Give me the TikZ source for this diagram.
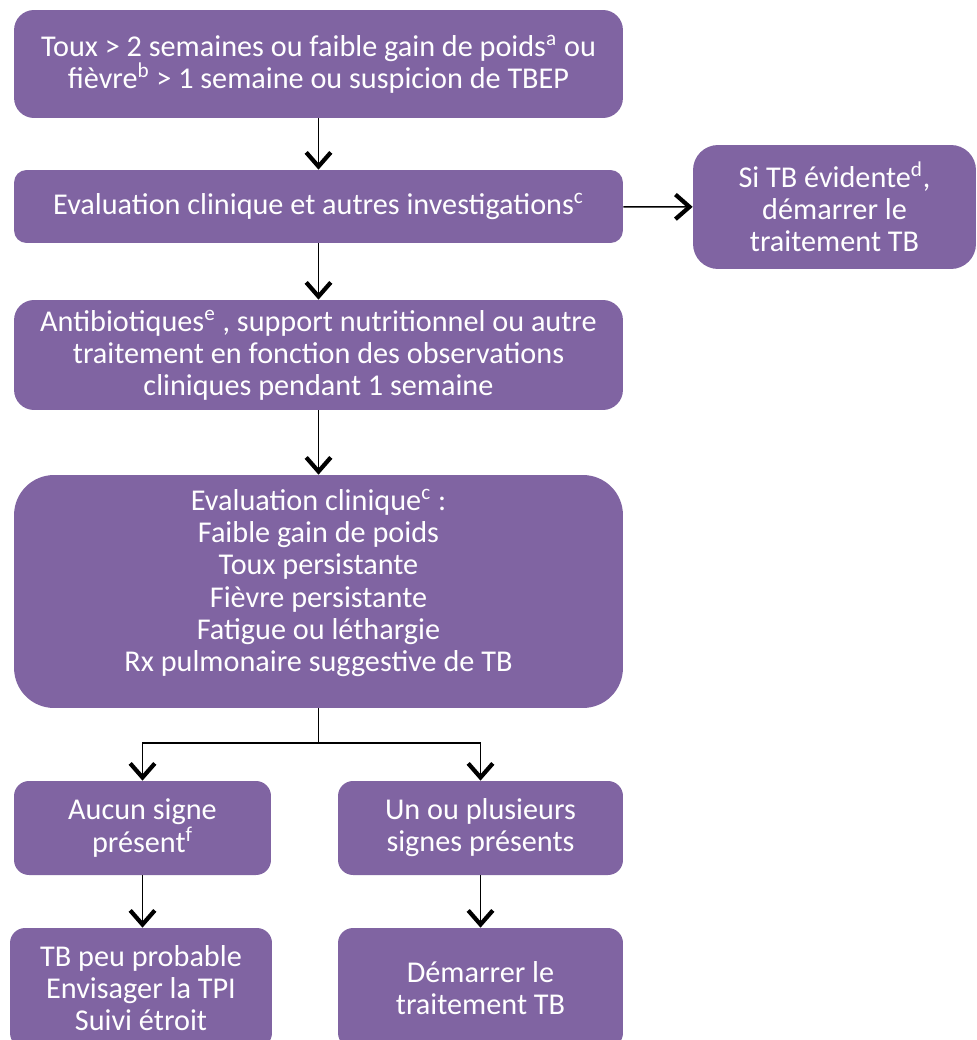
\documentclass[tikz,border=0pt]{standalone}
\usepackage{fontspec}
\setmainfont{Carlito}
\usetikzlibrary{arrows.meta}
\definecolor{boxpurple}{RGB}{128,100,162}
\begin{document}
\begin{tikzpicture}[x=0.02cm,y=-0.02cm,
  box/.style={fill=boxpurple, text=white, align=center, inner sep=0pt,
    font=\fontsize{17.2}{18.3}\selectfont},
  arr/.style={line width=0.9pt, -{Straight Barb[length=8pt,width=14pt,line width=2.4pt]}},
  link/.style={line width=0.9pt}]
\useasboundingbox (0,0) rectangle (976,1040);
\clip (0,0) rectangle (976,1040);
\node[box, minimum width=12.18cm, minimum height=2.16cm, rounded corners=0.4cm] (b1) at (318.5,64)
  {Toux > 2 semaines ou faible gain de poids\textsuperscript{a} ou\\ fièvre\textsuperscript{b} > 1 semaine ou suspicion de TBEP};
\node[box, minimum width=12.18cm, minimum height=1.46cm, rounded corners=0.25cm] (b2) at (318.5,206.5)
  {Evaluation clinique et autres investigations\textsuperscript{c}};
\node[box, minimum width=5.66cm, minimum height=2.48cm, rounded corners=0.5cm] (b3) at (834.5,207)
  {Si TB évidente\textsuperscript{d},\\ démarrer le\\ traitement TB};
\node[box, minimum width=12.18cm, minimum height=2.2cm, rounded corners=0.4cm] (b4) at (318.5,355)
  {Antibiotiques\textsuperscript{e} , support nutritionnel ou autre\\ traitement en fonction des observations\\ cliniques pendant 1 semaine};
\node[box, minimum width=12.18cm, minimum height=4.66cm, rounded corners=0.8cm] (b5) at (318.5,591.5)
  {Evaluation clinique\textsuperscript{c} :\\ Faible gain de poids\\ Toux persistante\\ Fièvre persistante\\ Fatigue ou léthargie\\ Rx pulmonaire suggestive de TB\\[-0.2cm]};
\node[box, minimum width=5.14cm, minimum height=1.88cm, rounded corners=0.3cm] (b6) at (142.5,828)
  {Aucun signe\\ présent\textsuperscript{f}};
\node[box, minimum width=5.7cm, minimum height=1.88cm, rounded corners=0.3cm] (b7) at (480.5,828)
  {Un ou plusieurs\\ signes présents};
\node[box, minimum width=5.24cm, minimum height=2.4cm, rounded corners=0.3cm] (b8) at (141,988)
  {TB peu probable\\ Envisager la TPI\\ Suivi étroit};
\node[box, minimum width=5.7cm, minimum height=2.4cm, rounded corners=0.3cm] (b9) at (480.5,988)
  {Démarrer le\\ traitement TB};
\coordinate (j) at (318.5,743);
\draw[arr] (b1) -- (b2);
\draw[arr] (b2) -- (b3);
\draw[arr] (b2) -- (b4);
\draw[arr] (b4) -- (b5);
\draw[link] (b5.south) -- (j);
\draw[arr] (j) -| (b6);
\draw[arr] (j) -| (b7);
\draw[arr] (b6.south) -- (b6.south |- b8.north);
\draw[arr] (b7) -- (b9);
\end{tikzpicture}
\end{document}
